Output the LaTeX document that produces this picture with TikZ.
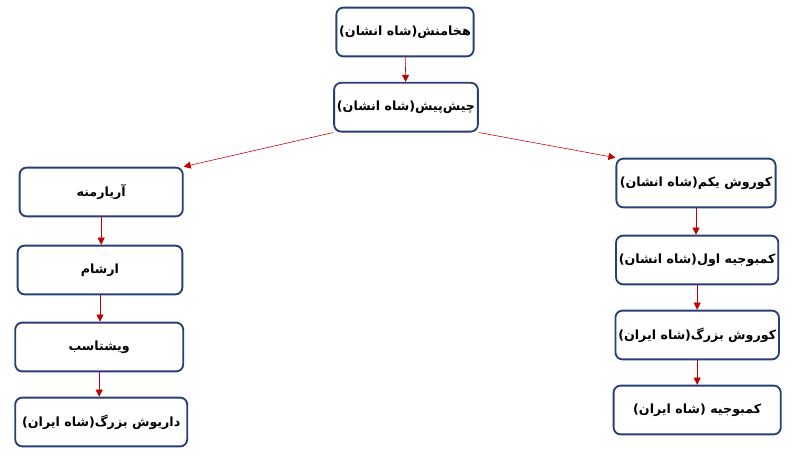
\documentclass[tikz,border=0pt]{standalone}
\usepackage{fontspec}
\newfontfamily\fa[Script=Arabic]{DejaVu Sans}
\usepackage{tikz}
\usetikzlibrary{arrows.meta,positioning}
\TeXXeTstate=1
\definecolor{boxblue}{RGB}{40,62,120}
\definecolor{arrred}{RGB}{192,0,0}
\tikzset{
  king/.style={draw=boxblue,line width=1.3pt,rounded corners=5pt,fill=white,
    minimum height=1.22cm,inner sep=2pt,font=\fa\bfseries\small},
  line/.style={draw=arrred,-{Triangle[length=5pt,width=5pt]}}
}
\newcommand{\rtl}[1]{\beginR #1\endR}
\begin{document}
\begin{tikzpicture}
	\useasboundingbox (0,0) rectangle (20,11.45);

	\node[king,minimum width=3.35cm] (hax) at (10.125,10.65) {\rtl{هخامنش(شاه انشان)}};
	\node[king,minimum width=3.4cm] (chi) at (10.15,8.77) {\rtl{چیش‌پیش(شاه انشان)}};

	\node[king,minimum width=4.08cm] (ari) at (2.53,6.65) {\rtl{آریارمنه}};
	\node[king,minimum width=4.12cm] (ars) at (2.5,4.7) {\rtl{ارشام}};
	\node[king,minimum width=4.2cm] (vis) at (2.48,2.775) {\rtl{ویشتاسب}};
	\node[king,minimum width=4.3cm] (dar) at (2.53,0.9) {\rtl{داریوش بزرگ(شاه ایران)}};

	\node[king,minimum width=3.98cm] (kr1) at (17.4,6.875) {\rtl{کوروش یکم(شاه انشان)}};
	\node[king,minimum width=4cm] (kb1) at (17.43,4.95) {\rtl{کمبوجیه اول(شاه انشان)}};
	\node[king,minimum width=4.08cm] (kr2) at (17.43,3.075) {\rtl{کوروش بزرگ(شاه ایران)}};
	\node[king,minimum width=4.18cm] (kb2) at (17.43,1.2) {\rtl{کمبوجیه (شاه ایران)}};

	\draw[line] (hax) -- (chi);
	\draw[line] (chi.south west) -- (ari.north east);
	\draw[line] (chi.south east) -- (kr1.north west);
	\draw[line] (ari.south) -- (ari.south |- ars.north);
	\draw[line] (ars.south) -- (ars.south |- vis.north);
	\draw[line] (vis.south) -- (vis.south |- dar.north);
	\draw[line] (kr1.south) -- (kr1.south |- kb1.north);
	\draw[line] (kb1.south) -- (kb1.south |- kr2.north);
	\draw[line] (kr2.south) -- (kr2.south |- kb2.north);

\end{tikzpicture}
\end{document}
